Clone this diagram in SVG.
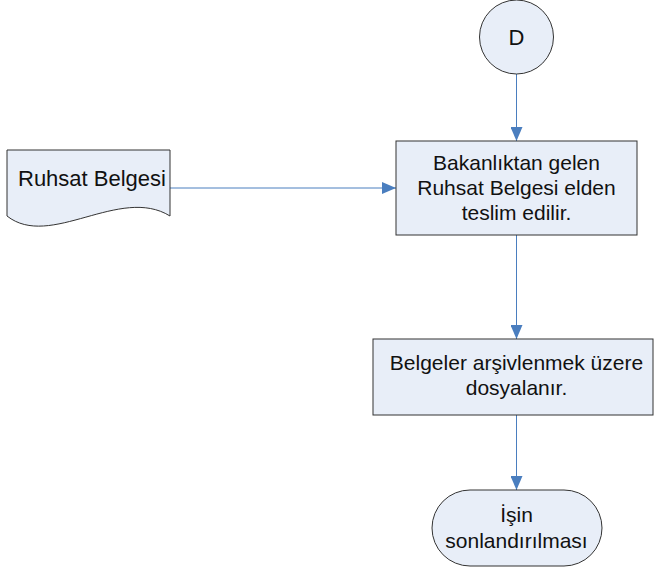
<svg xmlns="http://www.w3.org/2000/svg" width="654" height="571" viewBox="0 0 654 571">
<defs>
<style>
.shape{fill:#e8eef8;stroke:#333333;stroke-width:1}
.conn{fill:none;stroke:#4a7ebf;stroke-width:1}
text{font-family:"Liberation Sans",Arial,sans-serif;font-size:21px;fill:#111111;text-anchor:middle}
</style>
<marker id="arr" viewBox="0 0 14 12" refX="14" refY="6" markerWidth="14" markerHeight="12" markerUnits="userSpaceOnUse" orient="auto">
<path d="M0,0 L14,6 L0,12 Z" fill="#4a7ebf"/>
</marker>
</defs>
<rect width="654" height="571" fill="#ffffff"/>
<g id="connectors">
<line class="conn" x1="516.5" y1="74" x2="516.5" y2="141" marker-end="url(#arr)"/>
<line class="conn" x1="170" y1="188" x2="396" y2="188" marker-end="url(#arr)"/>
<line class="conn" x1="516.5" y1="235" x2="516.5" y2="339" marker-end="url(#arr)"/>
<line class="conn" x1="516.5" y1="415" x2="516.5" y2="490" marker-end="url(#arr)"/>
</g>
<g id="nodeD">
<circle class="shape" cx="516.5" cy="37" r="37"/>
<text x="516.5" y="44.5" style="font-size:22px">D</text>
</g>
<g id="ruhsatBelgesi">
<path class="shape" d="M7,150 H170 V216 C120,185 50,250 7,216 Z"/>
<text x="92" y="186" style="font-size:22px">Ruhsat Belgesi</text>
</g>
<g id="teslim">
<rect class="shape" x="396" y="141" width="241" height="94"/>
<text x="516.5" y="170">Bakanlıktan gelen</text>
<text x="516.5" y="195">Ruhsat Belgesi elden</text>
<text x="516.5" y="220">teslim edilir.</text>
</g>
<g id="dosyalama">
<rect class="shape" x="373" y="339" width="280" height="76"/>
<text x="516.5" y="370">Belgeler arşivlenmek üzere</text>
<text x="516.5" y="395">dosyalanır.</text>
</g>
<g id="son">
<rect class="shape" x="432" y="490" width="170" height="76" rx="38" ry="38"/>
<text x="516.5" y="522">İşin</text>
<text x="516.5" y="548">sonlandırılması</text>
</g>
</svg>
